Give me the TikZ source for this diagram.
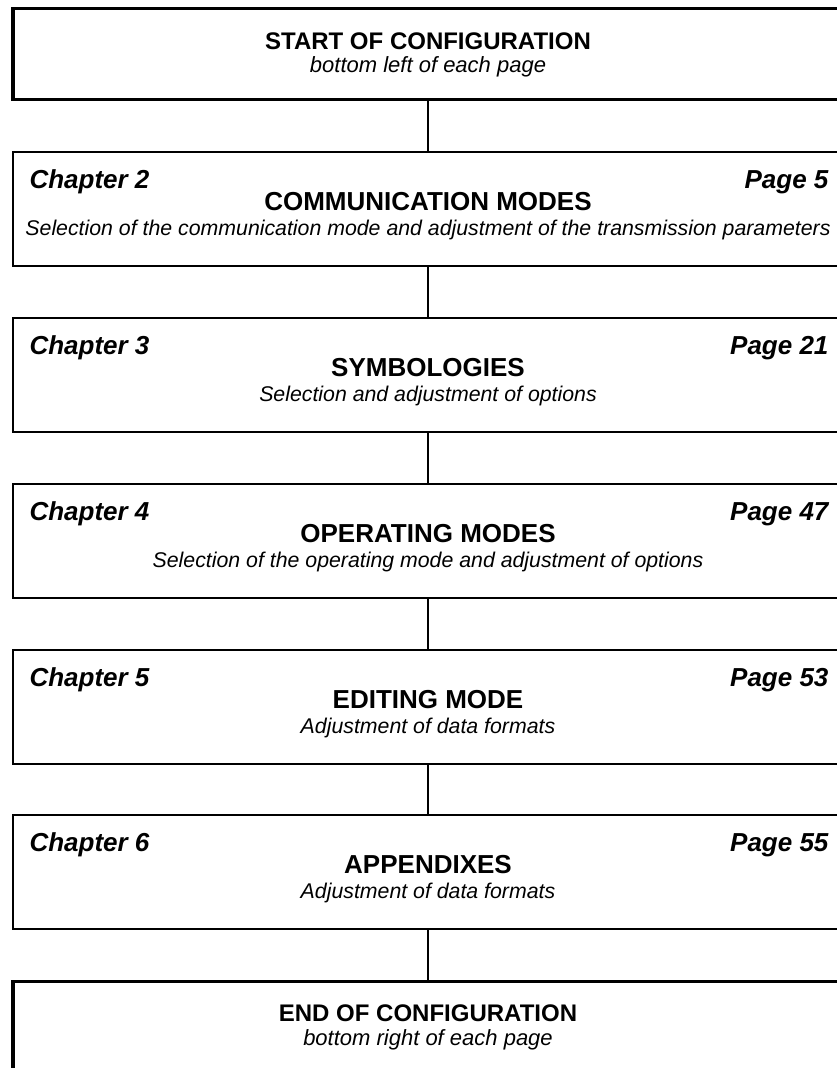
\documentclass[tikz,border=0pt]{standalone}
\usepackage{fontspec}
\setmainfont{Liberation Sans}
\begin{document}
\begin{tikzpicture}[x=1pt,y=-1pt,
    stepbox/.style={draw,line width = 0.7mm,minimum width=830pt,minimum height=114pt,inner sep=0pt},
    endbox/.style={draw,line width = 1.2mm,minimum width=830pt,minimum height=91pt,inner sep=0pt},
    title/.style={font=\bfseries\fontsize{26}{30}\selectfont},
    etitle/.style={font=\bfseries\fontsize{24}{28}\selectfont},
    sub/.style={font=\itshape\fontsize{21.3}{24}\selectfont},
    esub/.style={font=\itshape\fontsize{22}{25}\selectfont},
    chap/.style={font=\bfseries\itshape\fontsize{26}{30}\selectfont,anchor=west},
    pg/.style={font=\bfseries\itshape\fontsize{26}{30}\selectfont,anchor=east}]

            \clip (0,0) rectangle (837,1068);

            % start
            \node[endbox] (start) at (428,54) {};
            \node[etitle] (tstart) at (428,41) {START OF CONFIGURATION};
            \node[esub] (sstart) at (428,67) {bottom left of each page};

            % chapter 2
            \node[stepbox] (comm) at (428,209) {};
            \node[chap] (c2) at (26,182) {Chapter 2};
            \node[pg] (p2) at (832,182) {Page 5};
            \node[title] (tcomm) at (428,202) {COMMUNICATION MODES};
            \node[sub] (scomm) at (428,230) {Selection of the communication mode and adjustment of the transmission parameters};

            % chapter 3
            \node[stepbox] (symb) at (428,375) {};
            \node[chap] (c3) at (26,348) {Chapter 3};
            \node[pg] (p3) at (832,348) {Page 21};
            \node[title] (tsymb) at (428,368) {SYMBOLOGIES};
            \node[sub] (ssymb) at (428,396) {Selection and adjustment of options};

            % chapter 4
            \node[stepbox] (oper) at (428,541) {};
            \node[chap] (c4) at (26,514) {Chapter 4};
            \node[pg] (p4) at (832,514) {Page 47};
            \node[title] (toper) at (428,534) {OPERATING MODES};
            \node[sub] (soper) at (428,562) {Selection of the operating mode and adjustment of options};

            % chapter 5
            \node[stepbox] (edit) at (428,707) {};
            \node[chap] (c5) at (26,680) {Chapter 5};
            \node[pg] (p5) at (832,680) {Page 53};
            \node[title] (tedit) at (428,700) {EDITING MODE};
            \node[sub] (sedit) at (428,728) {Adjustment of data formats};

            % chapter 6
            \node[stepbox] (appx) at (428,872) {};
            \node[chap] (c6) at (26,845) {Chapter 6};
            \node[pg] (p6) at (832,845) {Page 55};
            \node[title] (tappx) at (428,865) {APPENDIXES};
            \node[sub] (sappx) at (428,893) {Adjustment of data formats};

            % end
            \node[endbox] (end) at (428,1027) {};
            \node[etitle] (tend) at (428,1013) {END OF CONFIGURATION};
            \node[esub] (send) at (428,1040) {bottom right of each page};

            \draw[line width = 0.7mm] (start.south) -- (comm.north);
            \draw[line width = 0.7mm] (comm.south) -- (symb.north);
            \draw[line width = 0.7mm] (symb.south) -- (oper.north);
            \draw[line width = 0.7mm] (oper.south) -- (edit.north);
            \draw[line width = 0.7mm] (edit.south) -- (appx.north);
            \draw[line width = 0.7mm] (appx.south) -- (end.north);

        \end{tikzpicture}
\end{document}
